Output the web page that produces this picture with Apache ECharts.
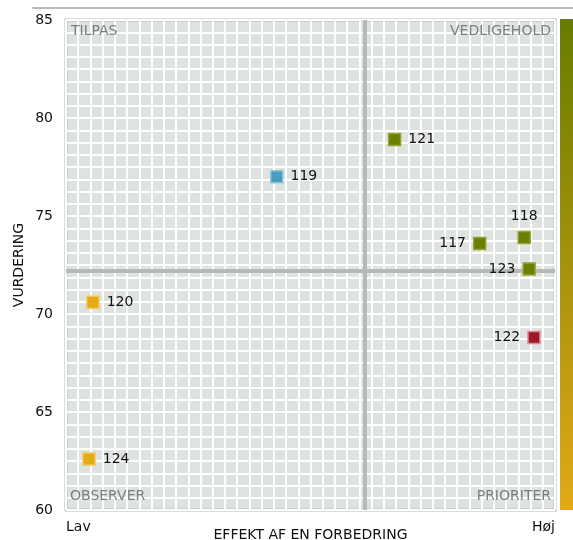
<!DOCTYPE html>
<html>
<head>
<meta charset="utf-8">
<script src="https://cdn.jsdelivr.net/npm/echarts@6/dist/echarts.min.js"></script>
<style>
  html, body { margin: 0; padding: 0; background: #fff; }
  #chart { width: 573px; height: 540px; }
</style>
</head>
<body>
<div id="chart"></div>
<script>
  // data
  const ids = ['121', '119', '117', '118', '123', '122', '120', '124'];
  const effect = [67.2, 43.1, 84.6, 93.7, 94.7, 95.7, 5.5, 4.7];
  const rating = [78.9, 77.0, 73.6, 73.9, 72.3, 68.8, 70.6, 62.6];
  const fills = ['#6b7f00', '#4b9dbf', '#6b7f00', '#6b7f00', '#6b7f00', '#a0172a', '#e3ab17', '#e3ab17'];
  const rims = ['#93a336', '#90c6da', '#93a336', '#93a336', '#93a336', '#e38a94', '#f0c95a', '#f0c95a'];
  const labelSides = ['right', 'right', 'left', 'top', 'left', 'left', 'right', 'right'];
  const xEnds = ['Lav', 'Høj'];
  const xSplit = 61.1;
  const ySplit = 72.2;
  const quadrants = ['TILPAS', 'VEDLIGEHOLD', 'OBSERVER', 'PRIORITER'];

  const font = '"DejaVu Sans", Verdana, sans-serif';
  const chart = echarts.init(document.getElementById('chart'));

  const points = ids.map((id, i) => ({
    name: id,
    value: [effect[i], rating[i]],
    itemStyle: { color: fills[i], borderColor: rims[i], borderWidth: 1.5, opacity: 1 },
    label: { position: labelSides[i] }
  }));

  const option = {
    animation: false,
    grid: {
      left: 66, right: 18, top: 20, bottom: 30,
      outerBoundsMode: 'none',
      containLabel: false,
      show: true,
      backgroundColor: '#dfe3e0',
      borderColor: '#b7bcb8',
      borderWidth: 3
    },
    xAxis: {
      type: 'value',
      min: 0, max: 100, interval: 25,
      name: 'EFFEKT AF EN FORBEDRING',
      nameLocation: 'middle',
      nameGap: 18,
      nameMoveOverlap: false,
      nameTextStyle: { fontFamily: font, fontSize: 14, color: '#111', verticalAlign: 'top' },
      axisLine: { show: false },
      axisTick: { show: false },
      axisLabel: {
        margin: 10,
        fontFamily: font, fontSize: 14, color: '#111',
        alignMinLabel: 'left', alignMaxLabel: 'right',
        formatter: v => v === 0 ? xEnds[0] : (v === 100 ? xEnds[1] : '')
      },
      splitLine: { show: true, lineStyle: { color: '#ffffff', width: 2 } },
      minorTick: { show: false, splitNumber: 10 },
      minorSplitLine: { show: true, lineStyle: { color: '#ffffff', width: 2 } }
    },
    yAxis: {
      type: 'value',
      min: 60, max: 85, interval: 5,
      name: 'VURDERING',
      nameLocation: 'middle',
      nameGap: 40,
      nameMoveOverlap: false,
      nameTextStyle: { fontFamily: font, fontSize: 14, color: '#111' },
      axisLine: { show: false },
      axisTick: { show: false },
      axisLabel: { margin: 13, fontFamily: font, fontSize: 14, color: '#111' },
      splitLine: { show: true, lineStyle: { color: '#ffffff', width: 2 } },
      minorTick: { show: false, splitNumber: 8 },
      minorSplitLine: { show: true, lineStyle: { color: '#ffffff', width: 2 } }
    },
    series: [{
      type: 'scatter',
      symbol: 'rect',
      symbolSize: 12,
      data: points,
      label: {
        show: true,
        formatter: '{b}',
        distance: 7,
        fontFamily: font, fontSize: 14, color: '#111'
      },
      markLine: {
        silent: true,
        symbol: 'none',
        label: { show: false },
        lineStyle: { color: '#b5bab6', width: 4, type: 'solid', opacity: 1 },
        data: [{ xAxis: xSplit }, { yAxis: ySplit }]
      },
      z: 5
    }],
    graphic: [
      { type: 'line', shape: { x1: 32, y1: 8, x2: 573, y2: 8 },
        style: { stroke: '#a3aaa5', lineWidth: 1.5 } },
      { type: 'rect', shape: { x: 560, y: 19, width: 14, height: 491 },
        style: { fill: new echarts.graphic.LinearGradient(0, 0, 0, 1, [
          { offset: 0, color: '#687c00' },
          { offset: 1, color: '#e2a917' }
        ]) } },
      { type: 'text', left: 71, top: 24, z: 100,
        style: { text: quadrants[0], font: '14px ' + font, fill: '#7a807c' } },
      { type: 'text', right: 22, top: 24, z: 100,
        style: { text: quadrants[1], font: '14px ' + font, fill: '#7a807c' } },
      { type: 'text', left: 70, top: 489, z: 100,
        style: { text: quadrants[2], font: '14px ' + font, fill: '#7a807c' } },
      { type: 'text', right: 22, top: 489, z: 100,
        style: { text: quadrants[3], font: '14px ' + font, fill: '#7a807c' } }
    ]
  };

  chart.setOption(option);
</script>
</body>
</html>
